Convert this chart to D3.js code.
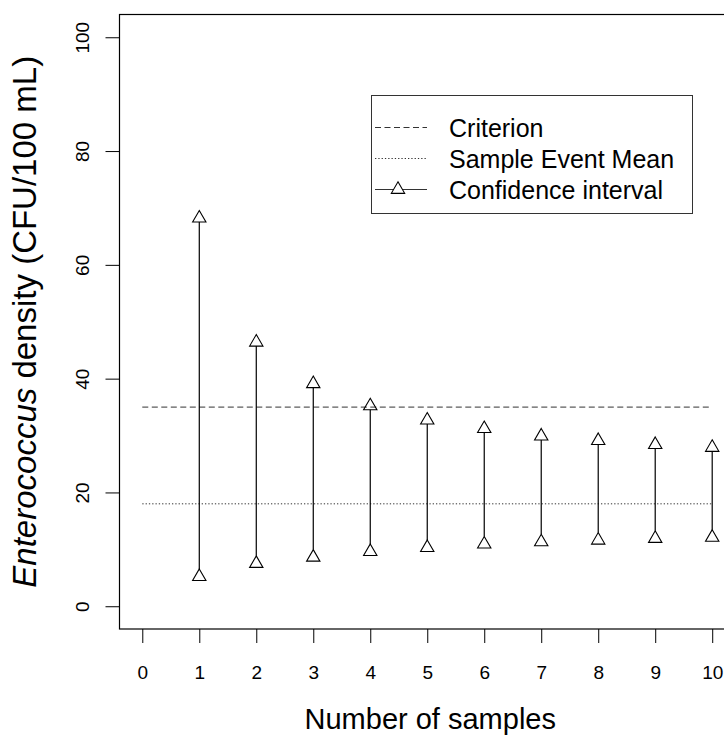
<!DOCTYPE html>
<html>
<head>
<meta charset="utf-8">
<script src="https://cdn.jsdelivr.net/npm/d3@7"></script>
<style>
  body { margin: 0; background: #fff; }
  svg text { font-family: "Liberation Sans", Arial, sans-serif; fill: #000; }
</style>
</head>
<body>
<div id="chart"></div>
<script>
// data
const samples = [1, 2, 3, 4, 5, 6, 7, 8, 9, 10];
const upperCI = [68.2, 46.4, 39.1, 35.2, 32.7, 31.2, 29.9, 29.1, 28.4, 27.9];
const lowerCI = [5.2, 7.5, 8.6, 9.6, 10.3, 10.9, 11.3, 11.6, 11.9, 12.1];
const criterion = 35;
const sampleMean = 18;
const xTicks = [0, 1, 2, 3, 4, 5, 6, 7, 8, 9, 10];
const yTicks = [0, 20, 40, 60, 80, 100];
const legendLabels = ["Criterion", "Sample Event Mean", "Confidence interval"];

const width = 724, height = 737;

const svg = d3.select("#chart").append("svg")
    .attr("width", width)
    .attr("height", height);

// R style: limits padded by 4%
const x = d3.scaleLinear().domain([-0.4, 10.4]).range([119.5, 735]);
const y = d3.scaleLinear().domain([-4, 104]).range([629, 14.5]);

const triR = 7.7; // circumradius of the triangle marker
const tri = d3.symbol(d3.symbolTriangle, 3 * Math.sqrt(3) * (triR / 2) * (triR / 2));

// axes
const xAxis = svg.append("g")
    .attr("transform", `translate(0,${y.range()[0]})`)
    .call(d3.axisBottom(x).tickValues(xTicks).tickFormat(d3.format("d")).tickSize(14).tickPadding(23).tickSizeOuter(0));
xAxis.select(".domain").remove();
xAxis.selectAll("text").style("font-size", "19px");

const yAxis = svg.append("g")
    .attr("transform", `translate(${x.range()[0]},0)`)
    .call(d3.axisLeft(y).tickValues(yTicks).tickFormat(d3.format("d")).tickSize(14).tickSizeOuter(0));
yAxis.select(".domain").remove();
yAxis.selectAll("text")
    .attr("x", null).attr("dy", null)
    .attr("text-anchor", "middle")
    .attr("transform", "translate(-31,0) rotate(-90)")
    .style("font-size", "19px");

// plot box
svg.append("rect")
    .attr("x", x.range()[0])
    .attr("y", y.range()[1])
    .attr("width", x.range()[1] - x.range()[0])
    .attr("height", y.range()[0] - y.range()[1])
    .attr("fill", "none")
    .attr("stroke", "#000")
    .attr("stroke-width", 1.2);

// reference lines
svg.append("line")
    .attr("x1", x(0)).attr("x2", x(10))
    .attr("y1", y(criterion)).attr("y2", y(criterion))
    .attr("stroke", "#333").attr("stroke-dasharray", "6,3.5");

svg.append("line")
    .attr("x1", x(0)).attr("x2", x(10))
    .attr("y1", y(sampleMean)).attr("y2", y(sampleMean))
    .attr("stroke", "#333").attr("stroke-dasharray", "1.3,2");

// confidence intervals: segment stops at the marker edges
const ci = samples.map((s, i) => ({s, lo: lowerCI[i], hi: upperCI[i]}));

svg.append("g")
    .selectAll("line")
    .data(ci)
    .join("line")
    .attr("x1", d => x(d.s)).attr("x2", d => x(d.s))
    .attr("y1", d => y(d.lo) - triR)
    .attr("y2", d => y(d.hi) + triR / 2)
    .attr("stroke", "#000")
    .attr("stroke-width", 1.2);

const pts = ci.flatMap(d => [{s: d.s, v: d.lo}, {s: d.s, v: d.hi}]);
svg.append("g")
    .selectAll("path")
    .data(pts)
    .join("path")
    .attr("d", tri)
    .attr("transform", d => `translate(${x(d.s)},${y(d.v)})`)
    .attr("fill", "none")
    .attr("stroke", "#000")
    .attr("stroke-width", 1.1);

// axis titles
svg.append("text")
    .attr("x", (x.range()[0] + x.range()[1]) / 2 + 3)
    .attr("y", 729)
    .attr("text-anchor", "middle")
    .style("font-size", "29px")
    .text("Number of samples");

const yTitle = svg.append("text")
    .attr("transform", `translate(36,${(y.range()[0] + y.range()[1]) / 2}) rotate(-90)`)
    .attr("text-anchor", "middle")
    .style("font-size", "33px");
yTitle.append("tspan").style("font-style", "italic").text("Enterococcus");
yTitle.append("tspan").text(" density (CFU/100 mL)");

// legend
const legend = svg.append("g");
legend.append("rect")
    .attr("x", 371.5).attr("y", 95.5)
    .attr("width", 321).attr("height", 118)
    .attr("fill", "#fff")
    .attr("stroke", "#333");

const rowY = [127.5, 158.5, 189.5];
const styles = ["6,3.5", "1.3,2", null];

legendLabels.forEach((lab, i) => {
    const ln = legend.append("line")
        .attr("x1", 375).attr("x2", 427)
        .attr("y1", rowY[i]).attr("y2", rowY[i])
        .attr("stroke", "#333");
    if (styles[i]) ln.attr("stroke-dasharray", styles[i]);
    legend.append("text")
        .attr("x", 449).attr("y", rowY[i] + 9)
        .style("font-size", "25px")
        .text(lab);
});
legend.append("path")
    .attr("d", tri)
    .attr("transform", `translate(398,${rowY[2]})`)
    .attr("fill", "#fff")
    .attr("stroke", "#000")
    .attr("stroke-width", 1.1);
</script>
</body>
</html>
